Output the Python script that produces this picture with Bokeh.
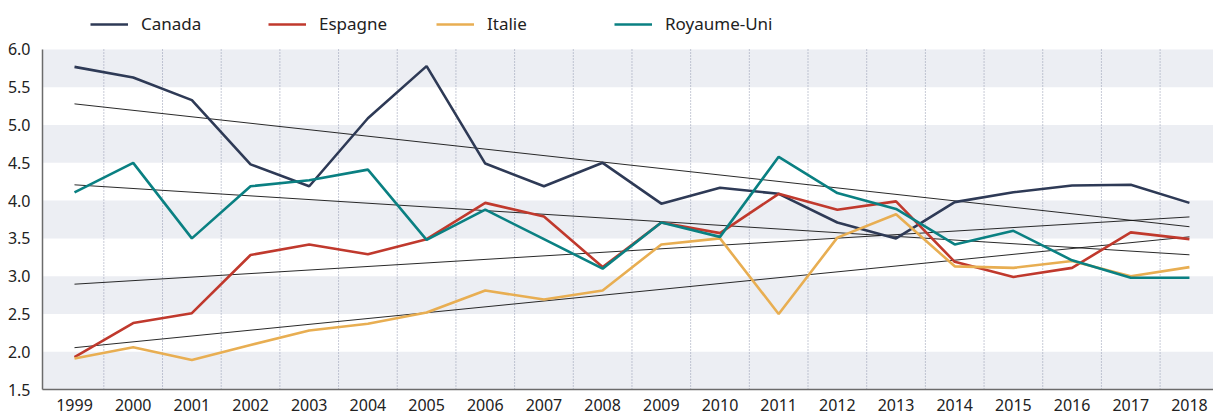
import numpy as np
from bokeh.plotting import figure
from bokeh.models import (Range1d, FixedTicker, NumeralTickFormatter, BoxAnnotation,
                          Legend, LegendItem)
from bokeh.embed import file_html
from bokeh.resources import INLINE

years = list(range(1999, 2019))
canada = [5.77, 5.63, 5.33, 4.48, 4.19, 5.09, 5.78, 4.49, 4.19, 4.50,
          3.96, 4.17, 4.09, 3.71, 3.50, 3.98, 4.11, 4.20, 4.21, 3.97]
espagne = [1.93, 2.38, 2.51, 3.28, 3.42, 3.29, 3.49, 3.97, 3.79, 3.12,
           3.71, 3.57, 4.09, 3.88, 3.99, 3.19, 2.99, 3.11, 3.58, 3.49]
italie = [1.91, 2.06, 1.89, 2.09, 2.28, 2.37, 2.52, 2.81, 2.69, 2.81,
          3.42, 3.50, 2.50, 3.51, 3.82, 3.13, 3.11, 3.20, 3.00, 3.12]
royaume_uni = [4.11, 4.50, 3.50, 4.19, 4.27, 4.41, 3.48, 3.88, 3.49, 3.10,
               3.71, 3.52, 4.58, 4.10, 3.89, 3.42, 3.60, 3.21, 2.98, 2.98]
series_names = ["Canada", "Espagne", "Italie", "Royaume-Uni"]
series_colors = ["#2e3a56", "#c0392d", "#e8ae52", "#0a8082"]
y_ticks = [1.5, 2.0, 2.5, 3.0, 3.5, 4.0, 4.5, 5.0, 5.5, 6.0]

FONT = "Noto Sans"
Y_MIN, Y_MAX = y_ticks[0], y_ticks[-1]

# frame: 1171 x 389 px; data area 1.5..6.0 occupies the bottom 340 px, legend above it
p = figure(width=1213, height=415, output_backend="svg", toolbar_location=None,
           x_range=Range1d(1998.4547, 2018.41), y_range=Range1d(Y_MIN, 6.6485),
           min_border_left=42, min_border_right=0, min_border_top=0, min_border_bottom=26)
p.outline_line_color = None
p.background_fill_color = "white"

# alternating bands
for lo, hi in zip(y_ticks[0::2], y_ticks[1::2]):
    p.add_layout(BoxAnnotation(bottom=lo, top=hi, fill_color="#eceef3", fill_alpha=1.0,
                               line_color=None, level="underlay"))

# grids: dotted vertical lines between years, limited to the data area
p.ygrid.grid_line_color = None
p.xgrid.grid_line_color = None
mid_years = [y + 0.5 for y in years[:-1]]
p.segment(x0=mid_years, y0=[Y_MIN] * len(mid_years), x1=mid_years, y1=[Y_MAX] * len(mid_years),
          line_color="#8f96ad", line_dash="1 2", line_width=1)

# trend lines
xs = np.array(years, dtype=float)
for vals in [canada, espagne, italie, royaume_uni]:
    a, b = np.polyfit(xs, np.array(vals), 1)
    p.line([xs[0], xs[-1]], [a * xs[0] + b, a * xs[-1] + b], line_color="#111111", line_width=0.9)

renderers = []
for name, vals, col in zip(series_names, [canada, espagne, italie, royaume_uni], series_colors):
    r = p.line(years, vals, line_color=col, line_width=2.6)
    renderers.append(r)

legend_x = [48, 226, 394, 572]
for n, r, lx in zip(series_names, renderers, legend_x):
    lg = Legend(items=[LegendItem(label=n, renderers=[r])], location=(lx, 354))
    lg.label_text_font = FONT
    lg.label_text_font_size = "17px"
    lg.label_text_color = "#222222"
    lg.glyph_width = 38
    lg.glyph_height = 20
    lg.label_height = 20
    lg.label_standoff = 13
    lg.padding = 0
    lg.margin = 0
    lg.border_line_color = None
    lg.background_fill_alpha = 0
    p.add_layout(lg, "center")

# axes
p.xaxis.ticker = FixedTicker(ticks=years)
p.yaxis.ticker = FixedTicker(ticks=y_ticks)
p.yaxis.bounds = (Y_MIN, Y_MAX)
p.yaxis.formatter = NumeralTickFormatter(format="0.0")
for ax in [p.xaxis[0], p.yaxis[0]]:
    ax.major_tick_line_color = None
    ax.minor_tick_line_color = None
    ax.axis_line_color = "#6b6b6b"
    ax.axis_line_width = 1.5
    ax.major_label_text_font = FONT
    ax.major_label_text_font_size = "16px"
    ax.major_label_text_color = "#222222"
p.xaxis.major_label_standoff = 3
p.yaxis.major_label_standoff = 6

open("out.html", "w").write(file_html(p, INLINE))
